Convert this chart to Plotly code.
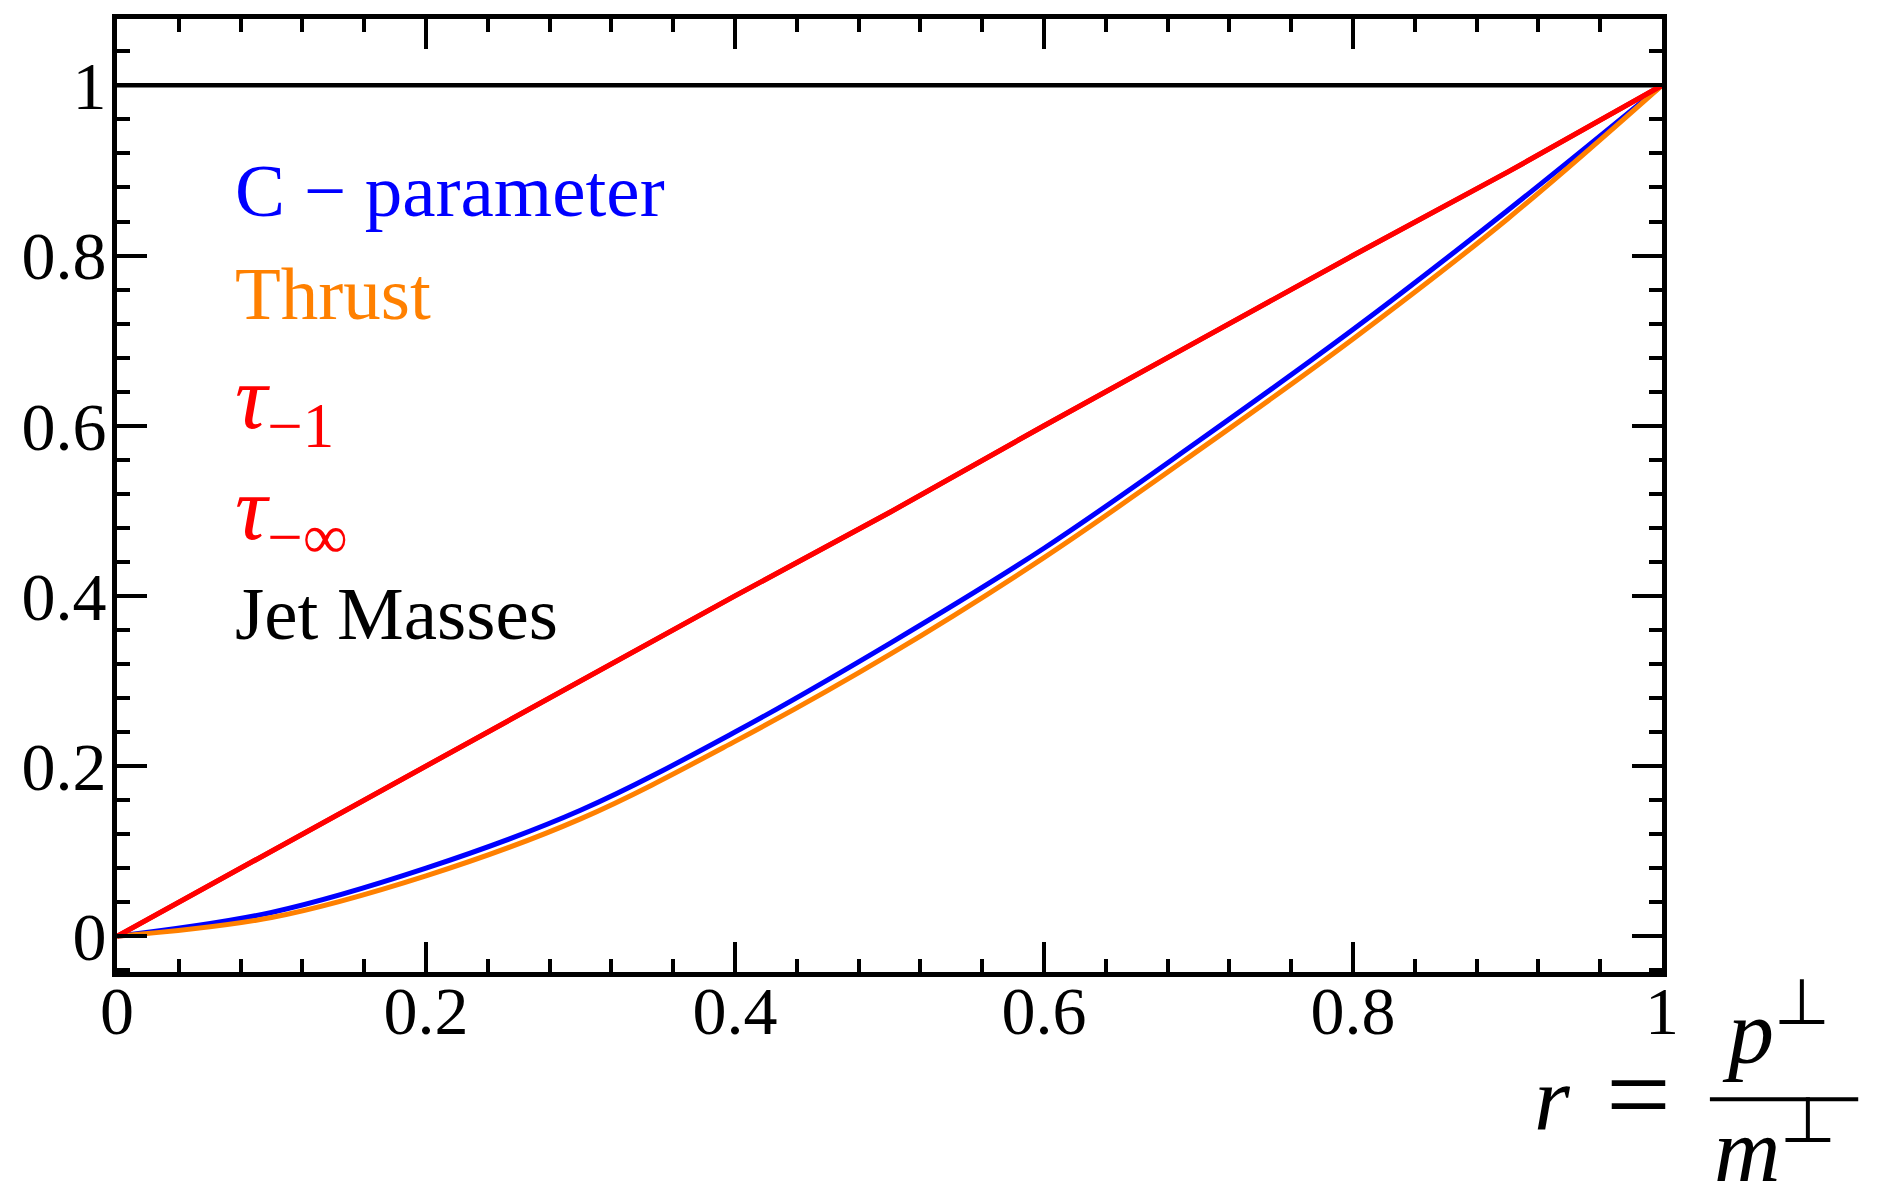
import plotly.graph_objects as go

# ---- data ----
r_vals = [0.0, 0.1, 0.2, 0.3, 0.4, 0.5, 0.6, 0.7, 0.8, 0.9, 1.0]
c_parameter = [0.0, 0.028, 0.080, 0.148, 0.240, 0.344, 0.456, 0.582, 0.713, 0.853, 1.0]
thrust = [0.0, 0.022, 0.071, 0.138, 0.229, 0.331, 0.445, 0.571, 0.702, 0.843, 1.0]
tau_m1 = [0.0, 0.1, 0.2, 0.3, 0.4, 0.498, 0.6, 0.7, 0.8, 0.898, 1.0]
tau_minf = [0.0, 0.1, 0.2, 0.3, 0.4, 0.498, 0.6, 0.7, 0.8, 0.898, 1.0]
jet_masses = [1.0, 1.0, 1.0, 1.0, 1.0, 1.0, 1.0, 1.0, 1.0, 1.0, 1.0]

labels = ["C \u2212 parameter", "Thrust", "<i>\u03c4</i><sub>\u22121</sub>",
          "<i>\u03c4</i><sub>\u2212\u221e</sub>", "Jet Masses"]
label_colors = ["#0000ff", "#ff8000", "#ff0000", "#ff0000", "#000000"]
label_sizes = [75, 75, 90, 90, 75]
label_y = [0.876, 0.755, 0.625, 0.495, 0.379]

SERIF = "Liberation Serif, Times New Roman, serif"

fig = go.Figure()
fig.add_trace(go.Scatter(x=r_vals, y=jet_masses, mode="lines",
                         line=dict(color="#000000", width=4.5), showlegend=False))
fig.add_trace(go.Scatter(x=r_vals, y=c_parameter, mode="lines", line_shape="spline",
                         line=dict(color="#0000ff", width=5), showlegend=False))
fig.add_trace(go.Scatter(x=r_vals, y=thrust, mode="lines", line_shape="spline",
                         line=dict(color="#ff8000", width=5), showlegend=False))
fig.add_trace(go.Scatter(x=r_vals, y=tau_minf, mode="lines",
                         line=dict(color="#ff0000", width=5), showlegend=False))
fig.add_trace(go.Scatter(x=r_vals, y=tau_m1, mode="lines",
                         line=dict(color="#ff0000", width=5), showlegend=False))

axis_common = dict(
    showline=True, linewidth=5, linecolor="black", mirror="allticks",
    ticks="inside", ticklen=30, tickwidth=4, tickcolor="black",
    tickmode="linear", tick0=0, dtick=0.2,
    minor=dict(tick0=0, dtick=0.04, ticks="inside", ticklen=13, tickwidth=4,
               tickcolor="black", showgrid=False),
    showgrid=False, zeroline=False,
    tickfont=dict(family=SERIF, size=68, color="black"),
)
fig.update_xaxes(range=[0, 1], ticklabelstandoff=-25, **axis_common)
fig.update_yaxes(range=[-0.042, 1.078], ticklabelstandoff=-8, **axis_common)

for txt, col, sz, yy in zip(labels, label_colors, label_sizes, label_y):
    fig.add_annotation(x=0.075, y=yy, xref="x", yref="y", text=txt, showarrow=False,
                       xanchor="left", yanchor="middle",
                       font=dict(family=SERIF, size=sz, color=col))

# axis label r = p⊥ / m⊥
fig.add_annotation(x=0.9290, y=-0.132, xref="paper", yref="paper",
                   text="<i>r</i>", showarrow=False, xanchor="center", yanchor="middle",
                   font=dict(family=SERIF, size=92, color="black"))
fig.add_annotation(x=0.9850, y=-0.129, xref="paper", yref="paper",
                   text="=", showarrow=False, xanchor="center", yanchor="middle",
                   font=dict(family=SERIF, size=115, color="black"))
fig.add_annotation(x=1.074, y=-0.056, xref="paper", yref="paper",
                   text="<i>p</i><sup>\u22a5</sup>", showarrow=False, xanchor="center",
                   yanchor="middle", borderpad=0,
                   font=dict(family=SERIF, size=92, color="black"))
fig.add_annotation(x=1.073, y=-0.179, xref="paper", yref="paper",
                   text="<i>m</i><sup>\u22a5</sup>", showarrow=False, xanchor="center",
                   yanchor="middle", borderpad=0,
                   font=dict(family=SERIF, size=92, color="black"))
fig.add_shape(type="line", xref="paper", yref="paper", x0=1.031, x1=1.127,
              y0=-0.1336, y1=-0.1336, line=dict(color="black", width=4))

fig.update_layout(
    width=1875, height=1185,
    margin=dict(l=109, r=221, t=6, b=221),
    plot_bgcolor="white", paper_bgcolor="white",
)

fig.write_html("out.html")
